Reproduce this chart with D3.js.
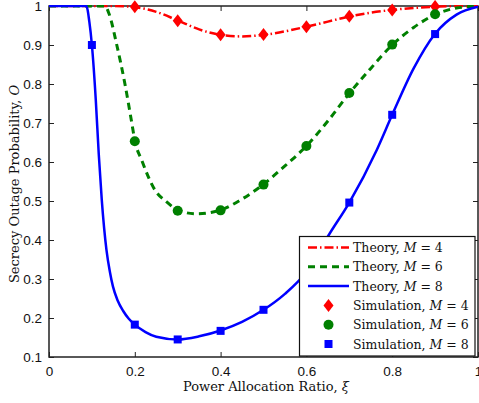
<!DOCTYPE html>
<html>
<head>
<meta charset="utf-8">
<script src="https://cdn.jsdelivr.net/npm/d3@7"></script>
<style>
  body { margin: 0; background: #fff; }
  svg { display: block; }
</style>
</head>
<body>
<svg id="chart"></svg>
<script>
let width = 479;
let height = 403;

// theory curves
const theoryX4 = [0, 0.1, 0.15, 0.2, 0.25, 0.3, 0.35, 0.4, 0.45, 0.5, 0.55, 0.6, 0.65, 0.7, 0.75, 0.8, 0.85, 0.9, 0.95, 1];
const theoryY4 = [1, 1, 1, 0.997, 0.985, 0.963, 0.94, 0.926, 0.922, 0.926, 0.935, 0.947, 0.96, 0.973, 0.983, 0.99, 0.995, 0.998, 1, 1];

const theoryX6 = [0, 0.1, 0.13, 0.14, 0.158, 0.177, 0.193, 0.2, 0.216, 0.247, 0.274, 0.3, 0.344, 0.4, 0.45, 0.5, 0.55, 0.6, 0.65, 0.7, 0.75, 0.8, 0.85, 0.9, 0.95, 1];
const theoryY6 = [1, 1, 1, 0.98, 0.9, 0.8, 0.7, 0.655, 0.605, 0.528, 0.498, 0.477, 0.467, 0.477, 0.505, 0.543, 0.59, 0.641, 0.705, 0.776, 0.84, 0.9, 0.945, 0.978, 0.995, 1];

const theoryX8 = [0, 0.05, 0.087, 0.094, 0.1, 0.109, 0.116, 0.123, 0.134, 0.142, 0.149, 0.16, 0.173, 0.186, 0.2, 0.225, 0.25, 0.3, 0.35, 0.4, 0.45, 0.5, 0.55, 0.6, 0.655, 0.7, 0.764, 0.8, 0.85, 0.9, 0.95, 1];
const theoryY8 = [1, 1, 1, 0.96, 0.9, 0.76, 0.62, 0.503, 0.374, 0.318, 0.281, 0.245, 0.218, 0.198, 0.183, 0.164, 0.152, 0.145, 0.153, 0.168, 0.19, 0.221, 0.262, 0.318, 0.418, 0.496, 0.631, 0.721, 0.84, 0.929, 0.978, 0.998];

// simulation points
const simX = [0.1, 0.2, 0.3, 0.4, 0.5, 0.6, 0.7, 0.8, 0.9];
const simY4 = [null, 0.998, 0.962, 0.926, 0.927, 0.947, 0.974, 0.99, 0.999];
const simY6 = [null, 0.653, 0.475, 0.476, 0.542, 0.641, 0.777, 0.901, 0.979];
const simY8 = [0.9, 0.183, 0.145, 0.167, 0.221, 0.33, 0.496, 0.721, 0.928];

const xTicks = [0, 0.2, 0.4, 0.6, 0.8, 1];
const yTicks = [0.1, 0.2, 0.3, 0.4, 0.5, 0.6, 0.7, 0.8, 0.9, 1];

const legendLabels = ["Theory, ", "Theory, ", "Theory, ", "Simulation, ", "Simulation, ", "Simulation, "];
const legendM = ["4", "6", "8", "4", "6", "8"];

const plot = { left: 49, top: 6, right: 478, bottom: 357 };

function draw() {
	const svg = d3.select("#chart");
	svg.selectAll("*").remove();
	svg.attr("width", width).attr("height", height);

	const x = d3.scaleLinear().domain([0, 1]).range([plot.left, plot.right]);
	const y = d3.scaleLinear().domain([0.1, 1]).range([plot.bottom, plot.top]);

	const tickFont = "'Liberation Sans', Arial, sans-serif";
	const serif = "'DejaVu Serif', 'Liberation Serif', serif";

	svg.append("defs")
		.append("clipPath")
		.attr("id", "clip")
		.append("rect")
		.attr("x", plot.left)
		.attr("y", plot.top - 1)
		.attr("width", plot.right - plot.left)
		.attr("height", plot.bottom - plot.top + 1);

	// axes with inward ticks on all sides
	const gx = svg.append("g").attr("transform", `translate(0,${plot.bottom})`)
		.call(d3.axisBottom(x).tickValues(xTicks).tickSizeInner(-5).tickSizeOuter(0).tickPadding(9).tickFormat(d3.format("")));
	const gxt = svg.append("g").attr("transform", `translate(0,${plot.top})`)
		.call(d3.axisTop(x).tickValues(xTicks).tickSizeInner(-5).tickSizeOuter(0).tickFormat(""));
	const gy = svg.append("g").attr("transform", `translate(${plot.left},0)`)
		.call(d3.axisLeft(y).tickValues(yTicks).tickSizeInner(-5).tickSizeOuter(0).tickPadding(7).tickFormat(d3.format("")));
	const gyr = svg.append("g").attr("transform", `translate(${plot.right},0)`)
		.call(d3.axisRight(y).tickValues(yTicks).tickSizeInner(-5).tickSizeOuter(0).tickFormat(""));

	[gx, gxt, gy, gyr].forEach((g) => {
		g.select(".domain").remove();
		g.selectAll("line").attr("stroke", "#222").attr("stroke-width", 1);
		g.selectAll("text").attr("fill", "#111").style("font-family", tickFont).style("font-size", "13.5px");
	});

	// frame
	svg.append("rect")
		.attr("x", plot.left)
		.attr("y", plot.top)
		.attr("width", plot.right - plot.left)
		.attr("height", plot.bottom - plot.top)
		.attr("fill", "none")
		.attr("stroke", "#222")
		.attr("stroke-width", 1.5);

	const lineGen = d3.line()
		.x((d) => x(d[0]))
		.y((d) => y(d[1]))
		.curve(d3.curveMonotoneX);

	const curves = [
		{ xs: theoryX4, ys: theoryY4, color: "#ff0000", dash: "9,3,1.5,3", w: 2.5 },
		{ xs: theoryX6, ys: theoryY6, color: "#008000", dash: "7,5", w: 3 },
		{ xs: theoryX8, ys: theoryY8, color: "#0000ff", dash: null, w: 2.5 },
	];

	const plotArea = svg.append("g").attr("clip-path", "url(#clip)");

	plotArea.selectAll("path.theory")
		.data(curves)
		.enter()
		.append("path")
		.attr("class", "theory")
		.attr("d", (c) => lineGen(c.xs.map((v, i) => [v, c.ys[i]])))
		.attr("fill", "none")
		.attr("stroke", (c) => c.color)
		.attr("stroke-width", (c) => c.w)
		.attr("stroke-dasharray", (c) => c.dash);

	const diamond = "M0,-6.5L5,0L0,6.5L-5,0Z";
	const pts4 = simX.map((v, i) => [v, simY4[i]]).filter((d) => d[1] !== null);
	const pts6 = simX.map((v, i) => [v, simY6[i]]).filter((d) => d[1] !== null);
	const pts8 = simX.map((v, i) => [v, simY8[i]]);

	svg.append("g")
		.selectAll("path")
		.data(pts4)
		.enter()
		.append("path")
		.attr("d", diamond)
		.attr("transform", (d) => `translate(${x(d[0])},${y(d[1])})`)
		.attr("fill", "#ff0000");

	svg.append("g")
		.selectAll("circle")
		.data(pts6)
		.enter()
		.append("circle")
		.attr("cx", (d) => x(d[0]))
		.attr("cy", (d) => y(d[1]))
		.attr("r", 5)
		.attr("fill", "#008000");

	svg.append("g")
		.selectAll("rect")
		.data(pts8)
		.enter()
		.append("rect")
		.attr("x", (d) => x(d[0]) - 4)
		.attr("y", (d) => y(d[1]) - 4)
		.attr("width", 8)
		.attr("height", 8)
		.attr("fill", "#0000ff");

	// legend
	const lg = svg.append("g");
	lg.append("rect")
		.attr("x", 299.5)
		.attr("y", 236.5)
		.attr("width", 175.5)
		.attr("height", 119.5)
		.attr("fill", "#fff")
		.attr("stroke", "#111")
		.attr("stroke-width", 1.2);

	const rowY = (i) => 247.5 + i * 19.3;
	curves.forEach((c, i) => {
		lg.append("line")
			.attr("x1", 308)
			.attr("x2", 349)
			.attr("y1", rowY(i))
			.attr("y2", rowY(i))
			.attr("stroke", c.color)
			.attr("stroke-width", c.w)
			.attr("stroke-dasharray", c.dash);
	});
	lg.append("path").attr("d", diamond).attr("transform", `translate(328.5,${rowY(3)})`).attr("fill", "#ff0000");
	lg.append("circle").attr("cx", 328.5).attr("cy", rowY(4)).attr("r", 5).attr("fill", "#008000");
	lg.append("rect").attr("x", 324.5).attr("y", rowY(5) - 4).attr("width", 8).attr("height", 8).attr("fill", "#0000ff");

	legendLabels.forEach((lab, i) => {
		const t = lg.append("text")
			.attr("x", 353)
			.attr("y", rowY(i) + 4.5)
			.style("font-family", serif)
			.style("font-size", "12.5px")
			.attr("fill", "#111");
		t.append("tspan").text(lab);
		t.append("tspan").style("font-style", "italic").text("M");
		t.append("tspan").text(" = " + legendM[i]);
	});

	// axis labels
	const xl = svg.append("text")
		.attr("x", 266)
		.attr("y", 391)
		.attr("text-anchor", "middle")
		.style("font-family", serif)
		.style("font-size", "13px")
		.attr("fill", "#111");
	xl.append("tspan").text("Power Allocation Ratio, ");
	xl.append("tspan").style("font-style", "italic").text("ξ");

	const yl = svg.append("text")
		.attr("transform", "translate(19,184) rotate(-90)")
		.attr("text-anchor", "middle")
		.style("font-family", serif)
		.style("font-size", "13px")
		.attr("fill", "#111");
	yl.append("tspan").text("Secrecy Outage Probability, ");
	yl.append("tspan").style("font-style", "italic").text("O");
}

draw();
</script>
</body>
</html>
